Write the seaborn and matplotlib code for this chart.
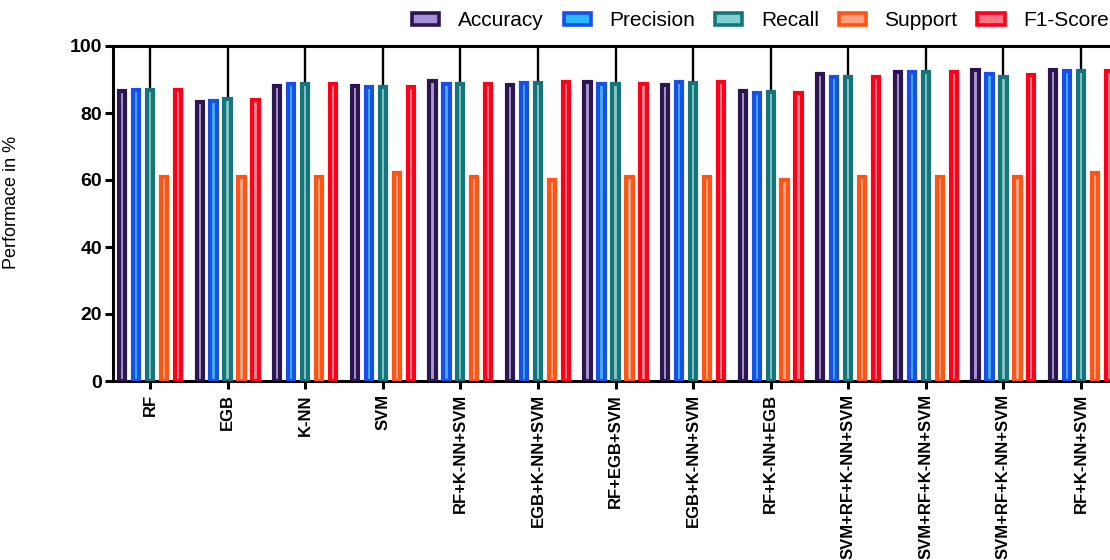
import matplotlib
matplotlib.use("Agg")
import matplotlib.pyplot as plt
import seaborn as sns
import pandas as pd
from matplotlib.patches import Patch

models = ["RF", "EGB", "K-NN", "SVM", "RF+K-NN+SVM", "EGB+K-NN+SVM", "RF+EGB+SVM",
          "EGB+K-NN+SVM", "RF+K-NN+EGB", "SVM+RF+K-NN+SVM", "SVM+RF+K-NN+SVM",
          "SVM+RF+K-NN+SVM", "RF+K-NN+SVM"]
metrics = ["Accuracy", "Precision", "Recall", "Support", "F1-Score"]
accuracy = [86.7, 83.4, 88.2, 88.2, 89.6, 88.4, 89.4, 88.4, 86.6, 91.6, 92.2, 92.7, 92.8]
precision = [86.8, 83.7, 88.8, 87.8, 88.8, 89.1, 88.7, 89.2, 86.0, 90.6, 92.3, 91.7, 92.5]
recall = [86.8, 84.3, 88.8, 87.8, 88.8, 89.1, 88.8, 89.0, 86.3, 90.6, 92.3, 90.6, 92.4]
support = [61, 61, 61, 62, 61, 60, 61, 61, 60, 61, 61, 61, 62]
f1_score = [86.8, 83.9, 88.8, 87.8, 88.8, 89.2, 88.8, 89.3, 86.1, 90.6, 92.3, 91.2, 92.4]

edge_colors = ["#2b1650", "#1650e8", "#14767c", "#ff5412", "#ff0018"]
fill_colors = ["#a890d8", "#2ab8ff", "#80d0d0", "#ffa080", "#ff7585"]

series = [accuracy, precision, recall, support, f1_score]
rows = []
for m, vals in zip(metrics, series):
    for i, v in enumerate(vals):
        rows.append({"Model": f"{i}", "Metric": m, "Value": v})
df = pd.DataFrame(rows)

sns.set_style("ticks")
plt.rcParams["font.family"] = ["Liberation Sans", "DejaVu Sans"]
plt.rcParams["text.color"] = "black"
plt.rcParams["axes.labelcolor"] = "black"
plt.rcParams["xtick.color"] = "black"
plt.rcParams["ytick.color"] = "black"

W, H = 1110, 560
fig = plt.figure(figsize=(W / 100, H / 100), dpi=100)
left, right, top, bottom = 113, 1118, 46, 381
ax = fig.add_axes([left / W, 1 - bottom / H, (right - left) / W, (bottom - top) / H])

LW = 3.0
sns.barplot(data=df, x="Model", y="Value", hue="Metric", hue_order=metrics,
            palette=fill_colors, width=0.9, gap=0.55, legend=False, ax=ax,
            linewidth=LW, errorbar=None)
for cont, ec in zip(ax.containers, edge_colors):
    for bar in cont:
        bar.set_edgecolor(ec)
        bar.set_linewidth(LW)
        bar.set_zorder(3)

# Prism-style connector lines from top axis to recall bars
ax.vlines(range(len(models)), recall, 100, color="black", lw=1.7, zorder=2)

ax.set_xlim(-0.477, len(models) - 1 + 0.477)
ax.set_ylim(0, 100)
ax.set_yticks([0, 20, 40, 60, 80, 100])
ax.set_xticks(range(len(models)))
ax.set_xticklabels(models, rotation=90, fontsize=12, fontweight="bold", va="top")
ax.tick_params(axis="y", labelsize=14, width=2.2, length=6, direction="out", pad=2)
ax.tick_params(axis="x", width=2.2, length=6, direction="out")
for lab in ax.get_yticklabels():
    lab.set_fontweight("bold")
for side in ["left", "bottom", "top"]:
    ax.spines[side].set_linewidth(2.2)
    ax.spines[side].set_color("black")
ax.spines["right"].set_visible(False)
ax.set_xlabel("")
ax.set_ylabel("Performace in %", fontsize=13)
ax.yaxis.set_label_coords(-(left - 20) / (right - left), 0.534)

handles = [Patch(facecolor=fc, edgecolor=ec, linewidth=2.6) for fc, ec in zip(fill_colors, edge_colors)]
fig.legend(handles, metrics, ncol=5, loc="center right",
           bbox_to_anchor=(1109 / W, 1 - 21 / H), frameon=False, fontsize=15,
           handlelength=1.3, handleheight=0.5, handletextpad=0.9, columnspacing=0.95,
           borderaxespad=0, borderpad=0)

fig.savefig("out.png", dpi=100)
